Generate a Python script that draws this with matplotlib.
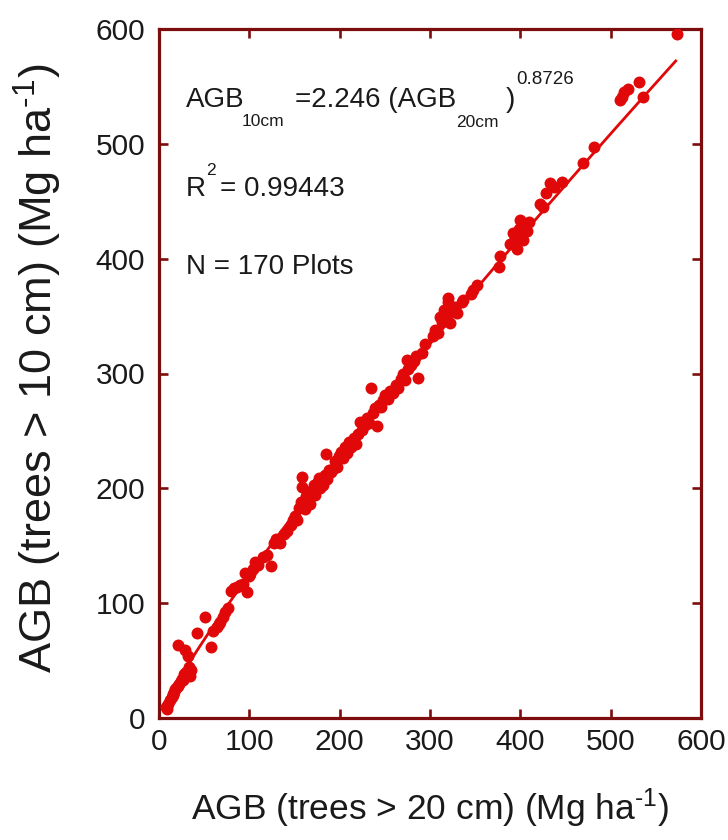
import matplotlib
matplotlib.use("Agg")
import matplotlib.pyplot as plt
import matplotlib.font_manager as fm
import numpy as np

# ---------------- data ----------------
agb_20cm = [8, 9, 10, 12, 14, 15, 16, 17, 18, 20, 21, 22, 24, 26, 27, 28, 29, 30, 32, 33, 34, 35,
            21, 29, 32, 42, 51, 58, 60, 64, 66, 68, 71, 73, 76,
            80, 83, 86, 90, 93, 95, 97, 100, 101, 104, 106, 110, 115, 120, 124, 127, 130, 134, 138, 142, 146, 148,
            150, 153, 155, 157, 158, 158, 160, 162, 163, 165, 167, 168, 170, 172, 173, 175, 177, 178, 180, 182,
            184, 185, 186, 188, 190, 193, 195, 197, 199, 202, 204, 206, 208, 210, 213, 216, 218, 220, 222, 225,
            228, 230, 233, 235, 237, 239, 241, 243, 246, 248, 250, 253, 256, 259, 262, 265, 268, 270, 272, 274,
            276, 279, 282, 285, 287, 291, 295,
            303, 306, 309, 311, 313, 315, 318, 320, 320, 322, 325, 328, 330, 335, 337, 345, 348, 352,
            376, 378, 389, 392, 394, 396, 398, 400, 401, 403, 405, 407, 410,
            422, 425, 428, 433, 437, 446, 469, 481,
            510, 512, 515, 519, 531, 536, 573]
agb_10cm = [10, 8, 12, 16, 18, 21, 20, 23, 25, 27, 28, 30, 32, 34, 33, 38, 36, 40, 41, 44, 37, 42,
            64, 59, 54, 74, 88, 62, 76, 79, 82, 84, 88, 92, 96,
            111, 113, 114, 116, 117, 126, 110, 124, 125, 130, 136, 133, 140, 142, 132, 152, 156, 152, 160, 163, 168, 172,
            176, 172, 183, 188, 210, 201, 185, 182, 193, 188, 186, 195, 199, 203, 194, 205, 209, 200, 207, 203,
            212, 230, 208, 216, 214, 217, 224, 219, 228, 232, 226, 236, 231, 240, 236, 244, 239, 247, 258, 251,
            255, 261, 257, 287, 266, 270, 254, 273, 271, 277, 281, 278, 285, 283, 290, 287, 295, 300, 294, 312,
            304, 307, 311, 315, 296, 318, 326,
            333, 338, 335, 349, 345, 355, 350, 366, 362, 344, 356, 358, 353, 362, 364, 369, 373, 377,
            393, 402, 413, 422, 417, 408, 426, 434, 420, 416, 428, 424, 432,
            448, 445, 457, 466, 462, 467, 483, 497,
            538, 541, 545, 548, 554, 541, 596]

fit_a = 2.246
fit_b = 0.8726
fit_xmin, fit_xmax = 8, 572

x_ticks = [0, 100, 200, 300, 400, 500, 600]
y_ticks = [0, 100, 200, 300, 400, 500, 600]

# ---------------- style ----------------
names = {f.name for f in fm.fontManager.ttflist}
NARROW = "Liberation Sans Narrow" if "Liberation Sans Narrow" in names else "Liberation Sans"
REG = "Liberation Sans"
plt.rcParams["font.family"] = [NARROW, "DejaVu Sans"]
plt.rcParams["mathtext.fontset"] = "custom"
plt.rcParams["mathtext.rm"] = NARROW
plt.rcParams["mathtext.it"] = NARROW

FRAME = "#7d0c0c"
RED = "#e00808"
TXT = "#1a1a1a"

W, H = 728, 840
fig = plt.figure(figsize=(W / 100, H / 100), dpi=100)
L, R, T, B = 159, 701, 29, 718
ax = fig.add_axes([L / W, (H - B) / H, (R - L) / W, (B - T) / H])


def af(px, py):
    return ((px - L) / (R - L), (B - py) / (B - T))


xf = np.linspace(fit_xmin, fit_xmax, 200)
ax.plot(xf, fit_a * xf ** fit_b, color=RED, lw=2.0, zorder=2)
ax.plot(agb_20cm, agb_10cm, "o", color=RED, ms=8.6, mec=RED, mew=0, zorder=3)

ax.set_xlim(0, 600)
ax.set_ylim(0, 600)
ax.set_xticks(x_ticks)
ax.set_yticks(y_ticks)
for s in ax.spines.values():
    s.set_color(FRAME)
    s.set_linewidth(2.3)
ax.tick_params(direction="in", length=6.5, width=1.9, color=FRAME,
               top=True, right=True, labelsize=21.5, labelcolor=TXT)
ax.tick_params(axis="x", pad=7)
ax.tick_params(axis="y", pad=10)

ax.set_xlabel(r"AGB (trees > 20 cm) (Mg ha$^{\text{-1}}$)", fontsize=25.5, color=TXT, va="center")
ax.xaxis.set_label_coords(0.5, af(0, 808)[1])
ax.set_ylabel(r"AGB (trees > 10 cm) (Mg ha$^{\text{-1}}$)", fontsize=32.5, color=TXT, va="center",
              family=[REG, "DejaVu Sans"])
ax.yaxis.set_label_coords(af(38, 0)[0], af(0, 368)[1])

big, small = 20, 12.5
def put(px, py, s, size):
    ax.text(*af(px, py), s, transform=ax.transAxes, fontsize=size, color=TXT,
            ha="left", va="baseline")

put(186, 107, "AGB", big)
put(242, 126, "10cm", small)
put(295, 107, "=2.246 (AGB", big)
put(456, 127, "20cm", small)
put(506, 107, ")", big)
put(516, 84, "0.8726", 13.5)
put(186, 196, "R", big)
put(206, 175, "2", small)
put(220, 196, "= 0.99443", big)
put(186, 274, "N = 170 Plots", big)

fig.savefig("out.png", dpi=100, facecolor="white")
